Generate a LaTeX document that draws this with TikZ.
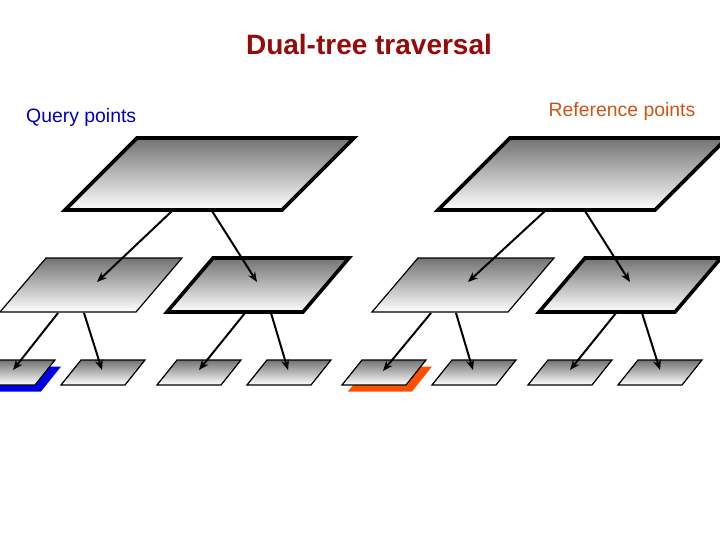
\documentclass[tikz,border=0pt]{standalone}
\usepackage{fontspec}
\setmainfont{Liberation Sans}
\definecolor{titlered}{RGB}{150, 10, 10}
\definecolor{qblue}{RGB}{0, 0, 190}
\definecolor{rorange}{RGB}{205, 85, 20}
\definecolor{qshadow}{RGB}{0, 0, 230}
\definecolor{rshadow}{RGB}{255, 80, 0}
\usepackage{tikz}
\usetikzlibrary{arrows.meta}

% slab: [style] {x of lower left} {y of lower edge} {width} {slant} {height}
\newcommand{\slab}[6][plane]{%
  \path[#1] (#2,#3) -- ++(#4,0) -- ++(#5,-#6) -- ++(-#4,0) -- cycle;}

\begin{document}
\begin{tikzpicture}[x=1pt, y=-1pt,
    plane/.style={draw=black, line width=1.2pt, top color=black!55, bottom color=white, line join=miter},
    thickplane/.style={plane, line width=3.6pt},
    link/.style={draw=black, line width=2pt, -{Stealth[length=10pt, width=8pt]}}]

\useasboundingbox (0,0) rectangle (720,540);
\clip (0,0) rectangle (720,540);

% shadows of the two leaves
\slab[fill=qshadow, draw=none]{-23}{391.5}{64}{20}{25}
\slab[fill=rshadow, draw=none]{348}{391.5}{64}{20}{25}

% roots
\slab[thickplane]{65}{210}{217}{72}{72}
\slab[thickplane]{438}{210}{217}{72}{72}

% second level
\slab{0}{312}{136}{46}{54}
\slab[thickplane]{167}{312}{136}{46}{54}
\slab{372}{312}{136}{46}{54}
\slab[thickplane]{539}{312}{136}{46}{54}

% leaves
\foreach \lx in {-29, 61, 157, 247, 342, 432, 528, 618}
  \slab{\lx}{385}{64}{20}{25};

% arrow ends
\coordinate (Q1)  at (97,282);
\coordinate (Q2)  at (257,282);
\coordinate (R1)  at (468,282);
\coordinate (R2)  at (630,282);
\coordinate (Q11) at (13,370);
\coordinate (Q12) at (102,370);
\coordinate (Q21) at (199,370);
\coordinate (Q22) at (288,370);
\coordinate (R11) at (383,371);
\coordinate (R12) at (473,370);
\coordinate (R21) at (570,370);
\coordinate (R22) at (660,370);

\coordinate (Q-a)  at (172,211);
\coordinate (Q-b)  at (212,211);
\coordinate (R-a)  at (545,211);
\coordinate (R-b)  at (585,211);
\coordinate (Q1-a) at (58,313);
\coordinate (Q1-b) at (84,313);
\coordinate (Q2-a) at (245,313);
\coordinate (Q2-b) at (271,313);
\coordinate (R1-a) at (431,313);
\coordinate (R1-b) at (456,313);
\coordinate (R2-a) at (616,313);
\coordinate (R2-b) at (642,313);

\path (Q-a)  edge [link] (Q1)
      (Q-b)  edge [link] (Q2)
      (R-a)  edge [link] (R1)
      (R-b)  edge [link] (R2)
      (Q1-a) edge [link] (Q11)
      (Q1-b) edge [link] (Q12)
      (Q2-a) edge [link] (Q21)
      (Q2-b) edge [link] (Q22)
      (R1-a) edge [link] (R11)
      (R1-b) edge [link] (R12)
      (R2-a) edge [link] (R21)
      (R2-b) edge [link] (R22)
      ;

\node[text=titlered, font=\bfseries\fontsize{28}{33}\selectfont] (title) at (369,44) {Dual-tree traversal};
\node[text=qblue, font=\fontsize{19.4}{23}\selectfont, anchor=west, inner sep=0pt] (qlabel) at (26,117) {Query points};
\node[text=rorange, font=\fontsize{19.4}{23}\selectfont, inner sep=0pt] (rlabel) at (622,111) {Reference points};

\end{tikzpicture}
\end{document}
